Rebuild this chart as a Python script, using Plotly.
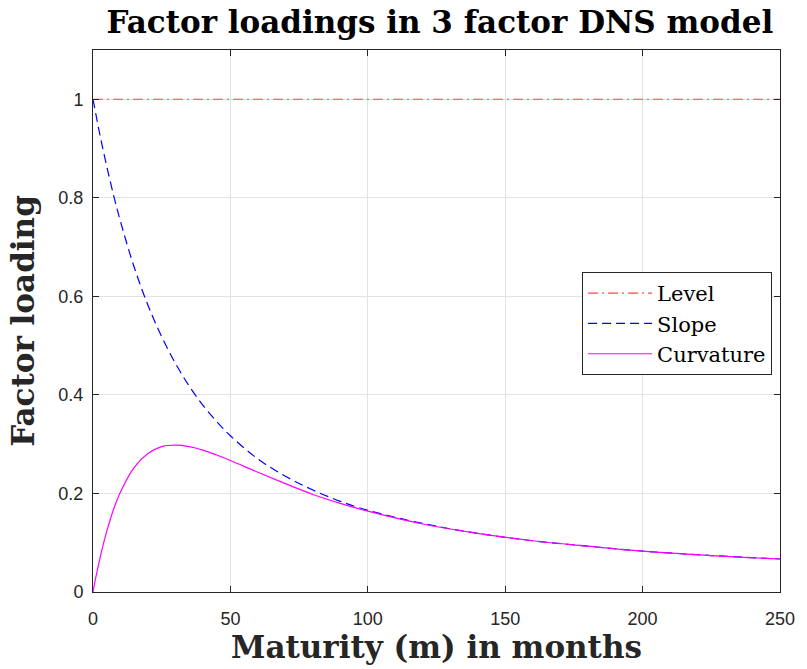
import plotly.graph_objects as go

# Maturities (months) and loadings
maturity = [0, 1, 2, 3, 5, 7.5, 10, 15, 20, 25, 30, 35, 40, 45, 50, 60, 70, 80, 90, 100,
            120, 140, 160, 180, 200, 225, 250]
level = [1.0] * len(maturity)
slope = [1.0, 0.971, 0.942, 0.915, 0.864, 0.805, 0.752, 0.659, 0.582, 0.518, 0.464, 0.418,
         0.379, 0.346, 0.317, 0.270, 0.235, 0.207, 0.184, 0.166,
         0.139, 0.119, 0.104, 0.093, 0.083, 0.074, 0.067]
curvature = [0.0, 0.029, 0.055, 0.080, 0.123, 0.168, 0.203, 0.253, 0.281, 0.295, 0.298, 0.295,
             0.288, 0.278, 0.267, 0.243, 0.220, 0.198, 0.180, 0.164,
             0.138, 0.119, 0.104, 0.093, 0.083, 0.074, 0.067]
x_ticks = [0, 50, 100, 150, 200, 250]
y_ticks = [0, 0.2, 0.4, 0.6, 0.8, 1]
y_tick_text = ["0", "0.2", "0.4", "0.6", "0.8", "1"]

serif = "DejaVu Serif"
fig = go.Figure()
fig.add_trace(go.Scatter(x=maturity, y=level, mode="lines", name="Level",
                         line=dict(color="rgb(255,70,70)", width=1.2, dash="10px,4px,2px,4px")))
fig.add_trace(go.Scatter(x=maturity, y=slope, mode="lines", name="Slope",
                         line=dict(color="rgb(0,0,255)", width=1.2, dash="9px,5px", shape="spline")))
fig.add_trace(go.Scatter(x=maturity, y=curvature, mode="lines", name="Curvature",
                         line=dict(color="rgb(255,0,255)", width=1.2, shape="spline")))

axis_common = dict(showline=True, linecolor="#262626", linewidth=1, mirror="ticks",
                   ticks="inside", ticklen=6, tickcolor="#262626",
                   showgrid=True, gridcolor="#e3e3e3", gridwidth=1, zeroline=False,
                   tickfont=dict(family="Liberation Sans", size=18, color="#262626"))

fig.update_layout(
    width=807, height=669,
    margin=dict(l=93, r=19, t=50, b=77),
    plot_bgcolor="white", paper_bgcolor="white",
    title=dict(text="<b>Factor loadings in 3 factor DNS model</b>", x=0.545, xanchor="center",
               y=1 - 22 / 669, yanchor="middle",
               font=dict(family=serif, size=31, color="#000000")),
    xaxis=dict(range=[0, 250], tickvals=x_ticks, ticklabelstandoff=10,
               title=dict(text="<b>Maturity (m) in months</b>", standoff=6,
                          font=dict(family=serif, size=31, color="#262626")),
               **axis_common),
    yaxis=dict(range=[0, 1.1], tickvals=y_ticks, ticktext=y_tick_text, ticklabelstandoff=5,
               title=dict(text="<b>Factor loading</b>", standoff=14,
                          font=dict(family=serif, size=31, color="#262626")),
               **axis_common),
    legend=dict(x=0.9885, xanchor="right", y=0.5904, yanchor="top",
                bgcolor="white", bordercolor="#262626", borderwidth=1,
                itemwidth=64, tracegroupgap=0,
                font=dict(family=serif, size=21, color="#000000")),
    showlegend=True,
)

fig.write_html("out.html")
